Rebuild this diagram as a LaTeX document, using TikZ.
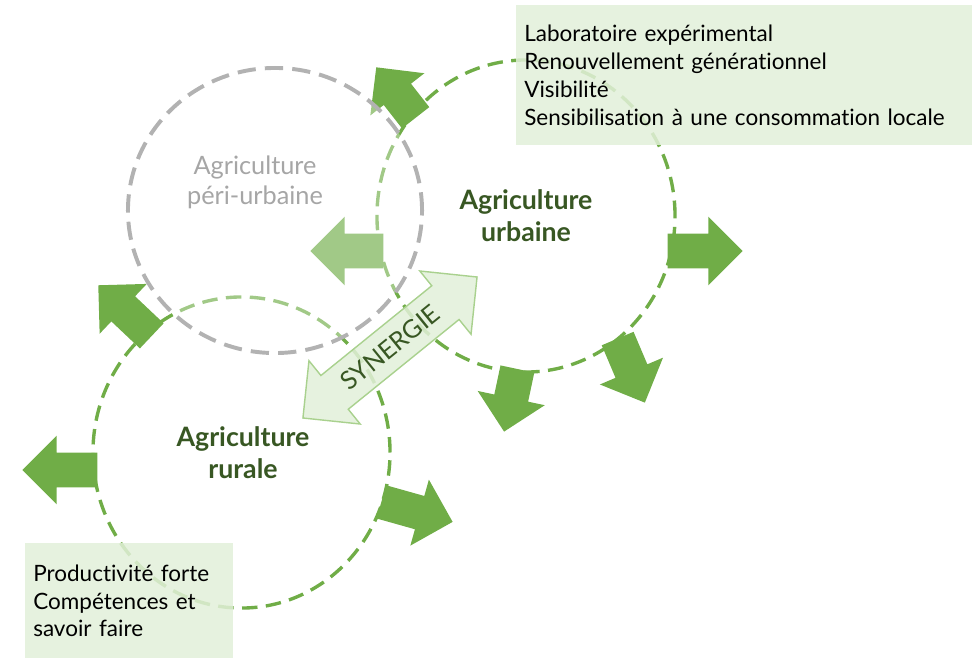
\documentclass[tikz,border=0pt]{standalone}
\usepackage{fontspec}
\setmainfont{Lato}[Ligatures=NoCommon]
\usepackage{xcolor}
\usepackage{tikz}
\usetikzlibrary{shapes,arrows,positioning,shapes.geometric,shapes.arrows}
\definecolor{leafGreen}{RGB}{112,173,71}
\definecolor{paleGreen}{RGB}{226,240,217}
\definecolor{softGreen}{RGB}{169,209,142}
\definecolor{darkGreen}{RGB}{56,87,35}
\definecolor{ringGray}{RGB}{178,178,178}
\definecolor{labelGray}{RGB}{166,166,166}
\tikzset{
  greenRing/.style={
    ellipse,
    draw=leafGreen,
    line width=2.4pt,
    dash pattern=on 11pt off 6pt,
    inner sep=0pt
  },
  grayRing/.style={
    ellipse,
    draw=ringGray,
    fill=white,
    fill opacity=0.35,
    line width=2.8pt,
    dash pattern=on 13pt off 6.5pt,
    inner sep=0pt
  },
  greenArrow/.style={
    single arrow,
    anchor=tip,
    fill=leafGreen,
    inner xsep=0pt,
    inner ysep=0.425cm,
    minimum width=1.7cm,
    minimum height=#1,
    single arrow head extend=0.425cm,
    single arrow tip angle=90,
    single arrow head indent=0pt
  },
  greenArrow/.default=1.875cm,
  synergyArrow/.style={
    double arrow,
    draw=softGreen,
    line width=1pt,
    fill=paleGreen,
    fill opacity=0.85,
    text opacity=1,
    text=darkGreen,
    inner xsep=0pt,
    inner ysep=0.3cm,
    text height=0.45cm,
    text depth=0cm,
    minimum width=2cm,
    minimum height=5.6cm,
    double arrow head extend=0.475cm,
    double arrow tip angle=90,
    font=\fontsize{18}{21}\selectfont
  },
  textBox/.style={
    anchor=north west,
    fill=paleGreen,
    fill opacity=0.85,
    text opacity=1,
    inner xsep=0.2cm,
    inner ysep=0pt,
    align=left,
    font=\fontsize{16}{19.7}\selectfont
  },
  mainLabel/.style={
    text=darkGreen,
    align=center,
    font=\fontsize{19}{22.8}\selectfont\bfseries
  },
  ringLabel/.style={
    text=labelGray,
    align=center,
    font=\fontsize{18}{21.3}\selectfont
  }
}
\begin{document}
\begin{tikzpicture}[x=0.025cm, y=-0.025cm]
        \useasboundingbox (0,0) rectangle (974,659);
        \node[greenRing, minimum width=7.45cm, minimum height=7.8cm] (urbRing) at (526,216) {};
        \node[greenRing, minimum width=7.425cm, minimum height=7.775cm] (rurRing) at (241.5,452.5) {};

        \node[greenArrow=1.6cm, rotate=128] (urbNW) at (376,67) {};
        \node[greenArrow=1.825cm, rotate=180] (urbW) at (310,251) {};
        \node[greenArrow, rotate=0] (urbE) at (743,251) {};
        \node[greenArrow=1.6cm, rotate=-102] (urbS) at (504,432) {};
        \node[greenArrow=1.74cm, rotate=-67] (urbSE) at (645,403) {};
        \node[greenArrow=1.84cm, rotate=136.6] (rurNW) at (98,285) {};
        \node[greenArrow, rotate=180] (rurW) at (22,470) {};
        \node[greenArrow=1.85cm, rotate=-15.7] (rurE) at (453,522) {};

        \node[grayRing, minimum width=7.35cm, minimum height=7.125cm] (periRing) at (275,210.5) {};

        \node[synergyArrow, rotate=39] (synergie) at (390,347.5) {SYNERGIE};

        \node[textBox, text width=11cm, minimum height=3.5cm] (urbBox) at (516,5)
          {Laboratoire expérimental\\Renouvellement générationnel\\Visibilité\\Sensibilisation à une consommation locale};
        \node[textBox, text width=4.8cm, minimum height=2.875cm] (rurBox) at (25,543)
          {Productivité forte\\Compétences et\\savoir faire};

        \node[ringLabel] (periLabel) at (255,182) {Agriculture\\péri-urbaine};
        \node[mainLabel] (urbLabel) at (526,216) {Agriculture\\urbaine};
        \node[mainLabel] (rurLabel) at (243,453) {Agriculture\\rurale};
    \end{tikzpicture}
\end{document}
